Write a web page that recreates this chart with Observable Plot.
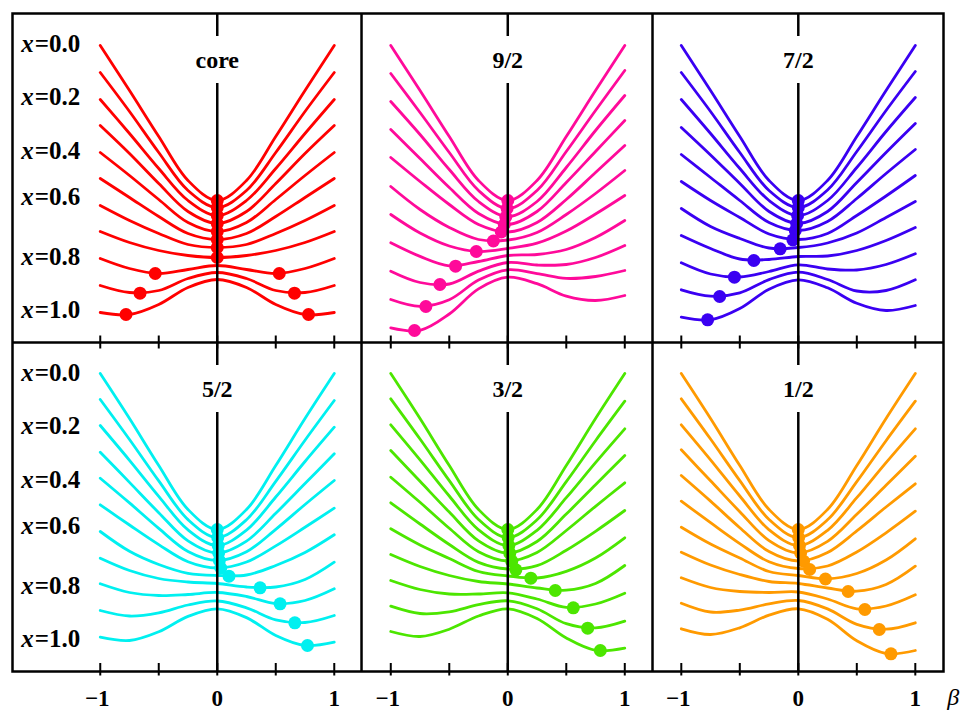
<!DOCTYPE html>
<html>
<head>
<meta charset="utf-8">
<script src="https://cdn.jsdelivr.net/npm/d3@7"></script>
<script src="https://cdn.jsdelivr.net/npm/@observablehq/plot@0.6"></script>
<style>
  body { margin: 0; background: #fff; }
  #chart svg { display: block; }
</style>
</head>
<body>
<div id="chart"></div>
<script>
// Deformation grid (β) on which every energy curve is sampled
const betaGrid = [-1, -0.75, -0.5, -0.25, 0, 0.25, 0.5, 0.75, 1];

// Control parameter x for the eleven curves of each panel (top to bottom)
const xControl = ["0.0", "0.1", "0.2", "0.3", "0.4", "0.5", "0.6", "0.7", "0.8", "0.9", "1.0"];
// Control-parameter values written at the left of each row
const rowLabels = ["0.0", "0.2", "0.4", "0.6", "0.8", "1.0"];
const rowLabelEnergy = [29.9, 24.6, 19.2, 14.6, 8.6, 3.3];

// Panels: even-even core and the odd particle in j = 9/2 ... 1/2
const panelNames = ["core", "9/2", "7/2", "5/2", "3/2", "1/2"];
const panelColors = ["#ff0000", "#ff0a9a", "#3a00f2", "#00f0f0", "#4ce600", "#ff9a00"];

// Energy surfaces E(β) (arb. units, curves offset), one row per x
const energyCore = [
  [29.7, 25.2, 20.6, 16.2, 14.2, 16.2, 20.6, 25.2, 29.7],
  [27.0, 23.1, 19.0, 15.2, 13.5, 15.2, 19.0, 23.1, 27.0],
  [24.3, 20.9, 17.4, 14.2, 12.7, 14.2, 17.4, 20.9, 24.3],
  [21.7, 18.9, 15.9, 13.1, 11.9, 13.1, 15.9, 18.9, 21.7],
  [19.0, 16.7, 14.3, 12.0, 11.1, 12.0, 14.3, 16.7, 19.0],
  [16.4, 14.5, 12.6, 10.9, 10.3, 10.9, 12.6, 14.5, 16.4],
  [13.7, 12.2, 10.9, 9.8, 9.5, 9.8, 10.9, 12.2, 13.7],
  [11.1, 10.0, 9.2, 8.7, 8.5, 8.7, 9.2, 10.0, 11.1],
  [8.4, 7.4, 6.9, 7.3, 7.7, 7.3, 6.9, 7.4, 8.4],
  [5.7, 5.0, 5.2, 6.4, 7.0, 6.4, 5.2, 5.0, 5.7],
  [3.0, 2.8, 3.8, 5.5, 6.3, 5.5, 3.8, 2.8, 3.0]
];
const energy92 = [
  [29.7, 25.2, 20.6, 16.2, 14.2, 16.2, 20.6, 25.2, 29.7],
  [26.9, 23.0, 19.0, 15.2, 13.4, 15.2, 19.1, 23.2, 27.2],
  [24.1, 20.8, 17.3, 14.1, 12.6, 14.1, 17.5, 21.2, 24.7],
  [21.3, 18.4, 15.5, 12.9, 11.8, 13.1, 16.0, 19.1, 22.2],
  [18.5, 16.1, 13.8, 11.8, 11.05, 12.0, 14.3, 17.0, 19.7],
  [15.6, 13.3, 11.5, 10.3, 10.25, 11.0, 12.8, 14.9, 17.2],
  [12.8, 10.95, 9.65, 9.1, 9.4, 9.93, 11.15, 12.85, 14.7],
  [9.97, 8.61, 7.67, 8.1, 8.7, 8.8, 9.3, 10.5, 12.2],
  [7.13, 6.0, 5.85, 7.14, 8.0, 7.75, 7.8, 8.5, 9.7],
  [4.3, 3.62, 4.28, 6.24, 7.27, 6.89, 6.41, 6.6, 7.2],
  [1.47, 1.22, 2.85, 5.36, 6.53, 5.88, 4.64, 4.2, 4.7]
];
const energy72 = [
  [29.7, 25.2, 20.6, 16.2, 14.2, 16.2, 20.6, 25.2, 29.7],
  [27.0, 23.1, 19.0, 15.2, 13.5, 15.25, 19.1, 23.2, 27.1],
  [24.3, 20.9, 17.4, 14.2, 12.7, 14.2, 17.5, 21.1, 24.5],
  [21.5, 18.75, 15.9, 13.1, 11.9, 13.1, 16.0, 19.0, 21.9],
  [18.8, 16.5, 14.2, 12.0, 11.2, 12.1, 14.4, 16.9, 19.3],
  [16.1, 14.2, 12.5, 10.85, 10.3, 10.9, 12.7, 14.65, 16.7],
  [13.4, 11.6, 10.4, 9.45, 9.5, 9.95, 10.95, 12.5, 14.1],
  [10.7, 9.4, 8.35, 8.3, 8.6, 8.65, 9.2, 10.2, 11.5],
  [7.97, 6.85, 6.55, 7.1, 7.77, 7.35, 7.25, 7.8, 8.87],
  [5.27, 4.63, 4.97, 6.29, 7.03, 6.3, 5.15, 5.2, 6.27],
  [2.53, 2.27, 3.39, 5.33, 6.27, 5.47, 3.92, 3.2, 3.7]
];
const energy52 = [
  [29.8, 25.3, 20.6, 16.2, 14.2, 16.2, 20.6, 25.3, 29.8],
  [27.2, 23.2, 19.06, 15.19, 13.4, 15.18, 19.02, 23.13, 27.1],
  [24.6, 21.12, 17.52, 14.16, 12.6, 14.14, 17.45, 21.0, 24.43],
  [21.93, 18.91, 15.88, 13.06, 11.85, 13.04, 15.82, 18.79, 21.77],
  [19.33, 16.86, 14.31, 12.0, 11.1, 11.98, 14.22, 16.7, 19.1],
  [16.67, 14.65, 12.69, 10.98, 10.35, 10.95, 12.56, 14.42, 16.33],
  [14.0, 12.02, 10.7, 9.82, 9.6, 9.65, 10.6, 11.9, 13.67],
  [11.33, 10.1, 9.3, 8.95, 8.8, 8.45, 8.45, 9.2, 10.93],
  [8.77, 7.9, 7.6, 7.7, 7.9, 7.5, 6.8, 7.1, 8.27],
  [6.1, 5.55, 5.87, 6.65, 7.05, 6.37, 5.17, 4.9, 5.6],
  [3.43, 3.1, 3.97, 5.51, 6.27, 5.39, 3.6, 2.6, 2.93]
];
const energy32 = [
  [29.8, 25.3, 20.6, 16.2, 14.2, 16.2, 20.6, 25.3, 29.8],
  [27.27, 23.25, 19.09, 15.2, 13.4, 15.17, 18.99, 23.08, 27.03],
  [24.67, 21.17, 17.55, 14.17, 12.6, 14.12, 17.38, 20.89, 24.27],
  [22.1, 19.02, 15.94, 13.06, 11.83, 13.0, 15.74, 18.67, 21.6],
  [19.43, 16.92, 14.32, 11.97, 11.05, 11.91, 14.1, 16.52, 18.87],
  [16.87, 14.75, 12.7, 10.91, 10.25, 10.58, 12.13, 14.02, 16.1],
  [14.27, 12.65, 11.3, 10.0, 9.55, 9.35, 10.02, 11.35, 13.37],
  [11.7, 10.5, 9.6, 9.0, 8.75, 8.35, 8.13, 8.8, 10.6],
  [9.1, 8.2, 7.75, 7.75, 7.87, 7.25, 6.41, 6.75, 7.83],
  [6.53, 5.8, 5.97, 6.68, 7.07, 6.28, 4.78, 4.36, 5.03],
  [4.0, 3.5, 4.23, 5.55, 6.27, 5.3, 3.35, 2.12, 2.33]
];
const energy12 = [
  [29.8, 25.3, 20.6, 16.2, 14.2, 16.2, 20.6, 25.3, 29.8],
  [27.27, 23.25, 19.09, 15.2, 13.4, 15.17, 18.99, 23.08, 27.03],
  [24.67, 21.17, 17.55, 14.17, 12.6, 14.12, 17.38, 20.89, 24.27],
  [22.17, 19.07, 15.98, 13.09, 11.85, 13.01, 15.72, 18.63, 21.53],
  [19.6, 17.04, 14.38, 11.99, 11.05, 11.9, 14.06, 16.45, 18.77],
  [17.03, 14.88, 12.79, 10.97, 10.3, 10.55, 11.95, 13.87, 16.03],
  [14.43, 12.75, 11.35, 10.0, 9.6, 9.27, 9.8, 11.15, 13.27],
  [11.93, 10.65, 9.7, 9.0, 8.8, 8.35, 8.03, 8.7, 10.53],
  [9.37, 8.4, 8.0, 7.9, 7.95, 7.25, 6.27, 6.55, 7.67],
  [6.83, 5.95, 6.14, 6.76, 7.1, 6.26, 4.72, 4.23, 4.87],
  [4.27, 3.7, 4.37, 5.63, 6.27, 5.22, 3.07, 1.8, 2.1]
];

// Location of the energy minimum (β_min, E_min) for each curve
const coreMinBeta = [0, 0, 0, 0, 0, 0, 0, 0, -0.53, 0.53, -0.66, 0.66, -0.78, 0.78];
const coreMinE = [14.2, 13.5, 12.7, 11.9, 11.1, 10.3, 9.5, 8.5, 6.9, 6.9, 4.93, 4.93, 2.8, 2.8];
const min92Beta = [0, -0.006, -0.017, -0.03, -0.055, -0.123, -0.269, -0.446, -0.58, -0.70, -0.797];
const min92E = [14.2, 13.4, 12.55, 11.8, 11.05, 10.15, 9.1, 7.63, 5.8, 3.6, 1.2];
const min72Beta = [0, 0, -0.006, -0.014, -0.026, -0.046, -0.155, -0.38, -0.546, -0.672, -0.775];
const min72E = [14.2, 13.5, 12.7, 11.9, 11.2, 10.27, 9.37, 8.2, 6.53, 4.6, 2.27];
const min52Beta = [0, 0.004, 0.008, 0.012, 0.018, 0.03, 0.1, 0.366, 0.537, 0.663, 0.771];
const min52E = [14.2, 13.4, 12.6, 11.85, 11.1, 10.35, 9.53, 8.37, 6.77, 4.87, 2.6];
const min32Beta = [0, 0.003, 0.009, 0.017, 0.034, 0.069, 0.197, 0.406, 0.56, 0.683, 0.791];
const min32E = [14.2, 13.4, 12.6, 11.83, 11.03, 10.17, 9.33, 8.1, 6.37, 4.33, 2.1];
const min12Beta = [0, 0.003, 0.01, 0.02, 0.045, 0.097, 0.232, 0.426, 0.569, 0.692, 0.792];
const min12E = [14.2, 13.4, 12.6, 11.84, 11.03, 10.2, 9.25, 8.0, 6.2, 4.2, 1.77];

// β axis ticks
const betaTicks = [-1, -0.5, 0, 0.5, 1];
const betaTickLabels = [-1, 0, 1];

// ---- layout of the 2 x 3 grid on one shared pair of scales ----
const colShift = [0, 2.483, 4.966];   // β offset of each column
const rowShift = [32.9, 0];           // energy offset of each row
const rowHeight = 32.9;
const colEdges = [1.233, 3.72];       // β positions of the panel dividers

const energyTables = [energyCore, energy92, energy72, energy52, energy32, energy12];
const minBetaTables = [coreMinBeta, min92Beta, min72Beta, min52Beta, min32Beta, min12Beta];
const minETables = [coreMinE, min92E, min72E, min52E, min32E, min12E];

const marks = [];

// panel dividers
marks.push(Plot.ruleY([rowHeight], {stroke: "#000", strokeWidth: 2.5}));
marks.push(Plot.ruleX(colEdges, {stroke: "#000", strokeWidth: 2.5}));

panelNames.forEach((name, p) => {
  const col = p % 3, row = Math.floor(p / 3);
  const pts = [];
  energyTables[p].forEach((series, k) => {
    series.forEach((e, j) => pts.push({curve: xControl[k], X: betaGrid[j] + colShift[col], Y: e + rowShift[row]}));
  });
  marks.push(Plot.line(pts, {
    x: "X", y: "Y", z: "curve", stroke: panelColors[p],
    strokeWidth: 2.8, curve: "catmull-rom", strokeLinecap: "round"
  }));
  const mins = minBetaTables[p].map((b, i) => ({X: b + colShift[col], Y: minETables[p][i] + rowShift[row]}));
  marks.push(Plot.dot(mins, {x: "X", y: "Y", r: 6.5, fill: panelColors[p], stroke: null}));
});

// β = 0 reference line of every panel, interrupted by the panel title
const zeroSegments = [];
colShift.forEach((cs) => {
  rowShift.forEach((rs) => {
    zeroSegments.push({X: cs, y1: rs + rowHeight, y2: rs + 30.6});
    zeroSegments.push({X: cs, y1: rs + 25.9, y2: rs});
  });
});
marks.push(Plot.ruleX(zeroSegments, {x: "X", y1: "y1", y2: "y2", stroke: "#000", strokeWidth: 2.5}));

// tick marks on the panel divider and the bottom edge
const tickPos = colShift.flatMap((cs) => betaTicks.map((b) => cs + b));
marks.push(Plot.ruleX(tickPos, {y1: rowHeight - 0.65, y2: rowHeight + 0.65, stroke: "#000", strokeWidth: 2}));
marks.push(Plot.ruleX(tickPos, {y1: -0.45, y2: 0.8, stroke: "#000", strokeWidth: 2}));

// tick labels (the minus sign hangs to the left of the digit)
const tickLabelData = colShift.flatMap((cs) => betaTickLabels.map((b) => ({X: cs + b, v: b})));
marks.push(Plot.text(tickLabelData.filter((d) => d.v < 0), {
  x: "X", y: -2.75, text: (d) => "\u2212" + Math.abs(d.v), dx: -3,
  fontFamily: "Liberation Serif", fontWeight: "bold", fontSize: 23, fill: "#000"
}));
marks.push(Plot.text(tickLabelData.filter((d) => d.v >= 0), {
  x: "X", y: -2.75, text: (d) => String(d.v),
  fontFamily: "Liberation Serif", fontWeight: "bold", fontSize: 23, fill: "#000"
}));
marks.push(Plot.text(["β"], {
  x: 6.29, y: -2.6, text: (d) => d, fontFamily: "Liberation Serif", fontStyle: "italic",
  fontSize: 24, fill: "#000"
}));

// panel titles
const titleData = panelNames.map((name, p) => ({X: colShift[p % 3], Y: 28.25 + rowShift[Math.floor(p / 3)], name}));
marks.push(Plot.text(titleData, {
  x: "X", y: "Y", text: "name", fontFamily: "Liberation Serif", fontWeight: "bold", fontSize: 24, fill: "#000"
}));

// row labels "x = ..."
const rowLabelData = rowShift.flatMap((rs) => rowLabels.map((lab, i) => ({Y: rowLabelEnergy[i] + rs, lab})));
marks.push(Plot.text(rowLabelData, {
  x: -1.676, y: "Y", text: () => "x", textAnchor: "start",
  fontFamily: "Liberation Serif", fontStyle: "italic", fontWeight: "bold", fontSize: 25, fill: "#000"
}));
marks.push(Plot.text(rowLabelData, {
  x: -1.676, y: "Y", text: (d) => "=" + d.lab, textAnchor: "start", dx: 13.5,
  fontFamily: "Liberation Serif", fontWeight: "bold", fontSize: 25, fill: "#000"
}));

marks.push(Plot.frame({stroke: "#000", strokeWidth: 2.5}));

const chart = Plot.plot({
  width: 965,
  height: 711,
  marginTop: 13,
  marginBottom: 40,
  marginLeft: 12,
  marginRight: 22,
  x: {domain: [-1.75, 6.207], axis: null},
  y: {domain: [0, 65.8], axis: null},
  style: {background: "#fff", overflow: "visible"},
  marks
});
document.getElementById("chart").appendChild(chart);
</script>
</body>
</html>
